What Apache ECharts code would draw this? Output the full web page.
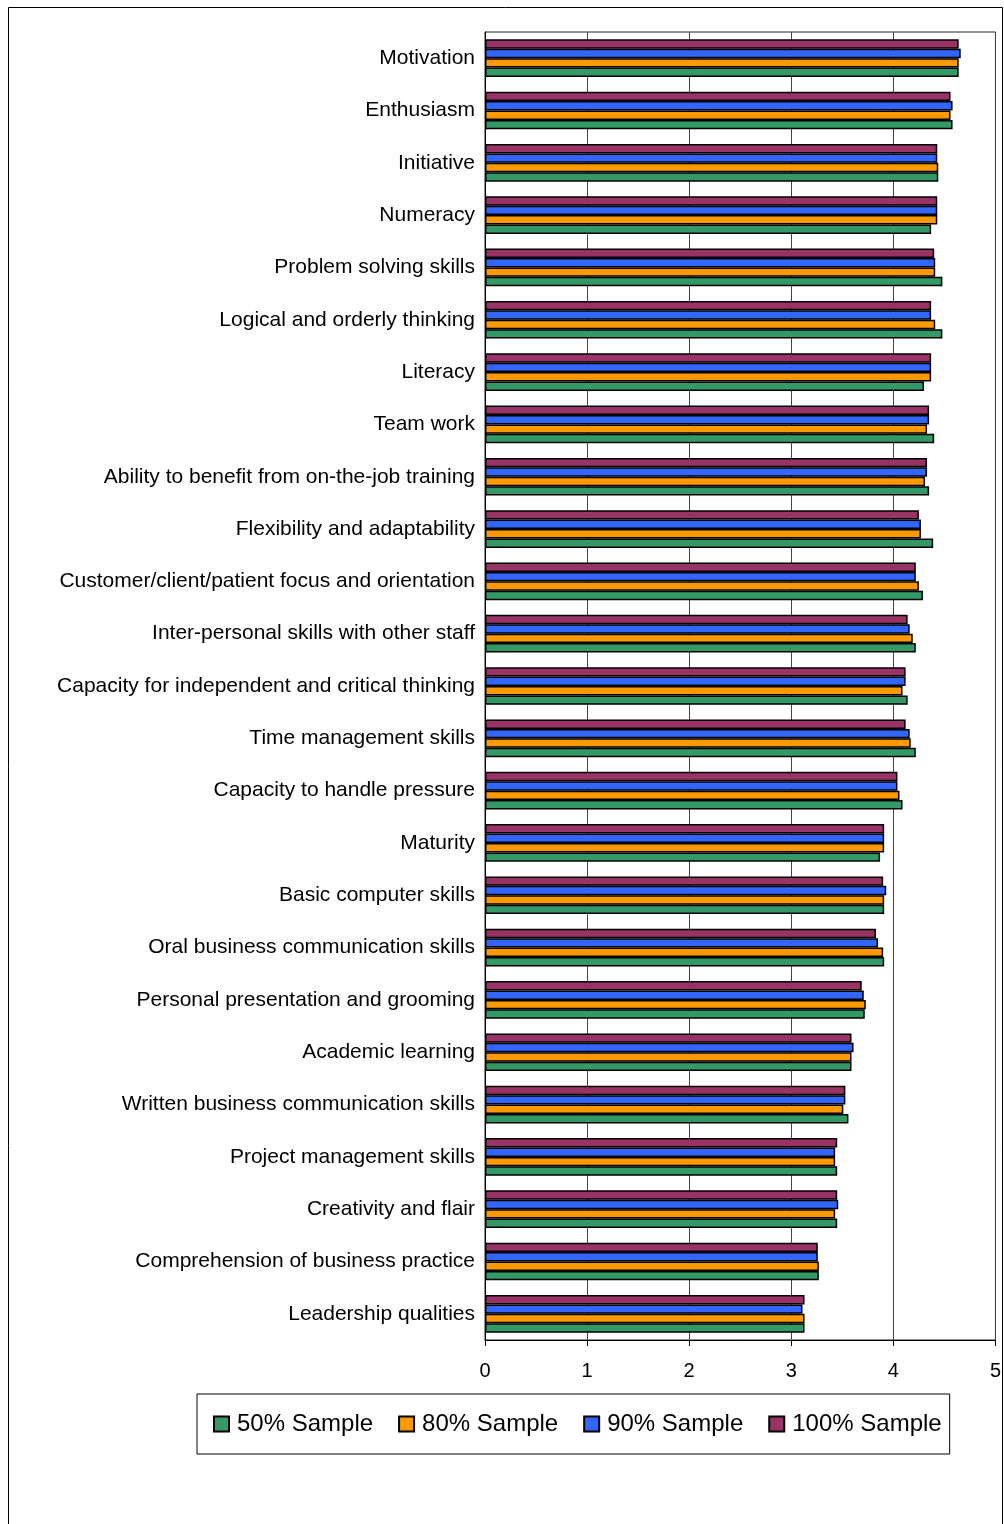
<!DOCTYPE html>
<html>
<head>
<meta charset="utf-8">
<script src="https://cdn.jsdelivr.net/npm/echarts@6/dist/echarts.min.js"></script>
<style>
html,body{margin:0;padding:0;background:#fff;}
#chart{width:1004px;height:1524px;}
</style>
</head>
<body>
<div id="chart"></div>
<script>
const categories = ['Motivation','Enthusiasm','Initiative','Numeracy','Problem solving skills','Logical and orderly thinking','Literacy','Team work','Ability to benefit from on-the-job training','Flexibility and adaptability','Customer/client/patient focus and orientation','Inter-personal skills with other staff','Capacity for independent and critical thinking','Time management skills','Capacity to handle pressure','Maturity','Basic computer skills','Oral business communication skills','Personal presentation and grooming','Academic learning','Written business communication skills','Project management skills','Creativity and flair','Comprehension of business practice','Leadership qualities'];

const sample100 = [4.64,4.56,4.43,4.43,4.40,4.37,4.37,4.35,4.33,4.25,4.22,4.14,4.12,4.12,4.04,3.91,3.90,3.83,3.69,3.59,3.53,3.45,3.45,3.26,3.13];
const sample90  = [4.66,4.58,4.43,4.43,4.41,4.37,4.37,4.35,4.33,4.27,4.22,4.16,4.12,4.16,4.04,3.91,3.93,3.85,3.71,3.61,3.53,3.43,3.46,3.26,3.11];
const sample80  = [4.64,4.56,4.44,4.43,4.41,4.41,4.37,4.33,4.31,4.27,4.25,4.19,4.09,4.17,4.06,3.91,3.91,3.90,3.73,3.59,3.51,3.43,3.43,3.27,3.13];
const sample50  = [4.64,4.58,4.44,4.37,4.48,4.48,4.30,4.40,4.35,4.39,4.29,4.22,4.14,4.22,4.09,3.87,3.91,3.91,3.72,3.59,3.56,3.45,3.45,3.27,3.13];

const seriesNames = ['50% Sample','80% Sample','90% Sample','100% Sample'];
const xTicks = [0,1,2,3,4,5];

const FONT = 'Liberation Sans, Arial, sans-serif';
const chart = echarts.init(document.getElementById('chart'), null, {renderer:'canvas'});

function bar(name, data, color){
  return {
    name: name, type:'bar', data: data,
    barGap: '0%', barCategoryGap: '28%',
    itemStyle: {color: color, borderColor:'#000', borderWidth:1.5},
    emphasis: {disabled:true},
    animation:false
  };
}

chart.setOption({
  animation:false,
  backgroundColor:'#fff',
  textStyle:{fontFamily:FONT},
  graphic:[{
    type:'rect', silent:true,
    shape:{x:8.5, y:7.5, width:994, height:1600},
    style:{fill:'none', stroke:'#000', lineWidth:1}
  }],
  grid:{left:485, top:32, right:7, bottom:184, show:true, borderColor:'#222', borderWidth:1, backgroundColor:'#fff'},
  legend:{
    data: seriesNames,
    left:197, top:1394,
    orient:'horizontal',
    padding:[18,8,18,16],
    borderColor:'#000', borderWidth:1, backgroundColor:'#fff',
    itemWidth:15, itemHeight:15, itemGap:25,
    icon:'rect',
    textStyle:{fontSize:24, color:'#000', fontFamily:FONT, padding:[0,0,0,3]}
  },
  xAxis:{
    type:'value', min:0, max:5, interval:1,
    axisLine:{show:true, lineStyle:{color:'#000', width:1}},
    axisTick:{show:true, length:6, lineStyle:{color:'#000'}},
    splitLine:{show:true, lineStyle:{color:'#444', width:1}},
    axisLabel:{fontSize:20, color:'#000', margin:21, fontFamily:FONT,
      formatter: function(v){ return xTicks.indexOf(v) >= 0 ? String(v) : ''; }}
  },
  yAxis:{
    type:'category', data:categories, inverse:true,
    axisLine:{show:true, lineStyle:{color:'#000', width:1}},
    axisTick:{show:false},
    axisLabel:{fontSize:21, color:'#000', margin:10, fontFamily:FONT}
  },
  series:[
    bar('100% Sample', sample100, '#993366'),
    bar('90% Sample', sample90, '#3366FF'),
    bar('80% Sample', sample80, '#FF9900'),
    bar('50% Sample', sample50, '#339966')
  ]
});
</script>
</body>
</html>
